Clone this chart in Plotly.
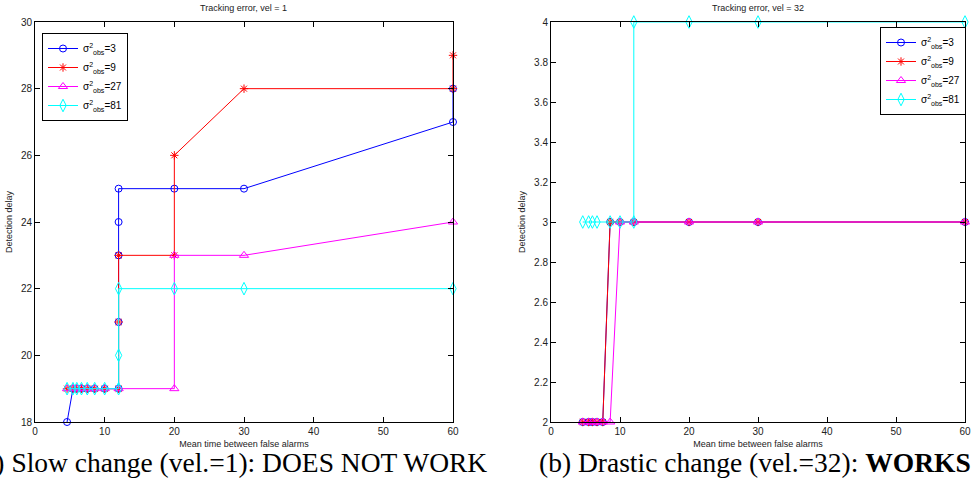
import plotly.graph_objects as go

# ---------------- data ----------------
# Left panel: Tracking error, vel = 1
l_blue_x = [4.6, 5.45, 6, 6.67, 7.5, 8.57, 10, 12, 12, 12, 12, 12, 20, 30, 60, 60]
l_blue_y = [18, 19, 19, 19, 19, 19, 19, 19, 21, 23, 24, 25, 25, 25, 27, 28]
l_red_x = [4.6, 5.45, 6, 6.67, 7.5, 8.57, 10, 12, 12, 12, 20, 20, 30, 60, 60]
l_red_y = [19, 19, 19, 19, 19, 19, 19, 19, 21, 23, 23, 26, 28, 28, 29]
l_mag_x = [4.6, 5.45, 6, 6.67, 7.5, 8.57, 10, 12, 20, 20, 30, 60]
l_mag_y = [19, 19, 19, 19, 19, 19, 19, 19, 19, 23, 23, 24]
l_cyan_x = [4.6, 5.45, 6, 6.67, 7.5, 8.57, 10, 12, 12, 12, 20, 30, 60]
l_cyan_y = [19, 19, 19, 19, 19, 19, 19, 19, 20, 22, 22, 22, 22]

# Right panel: Tracking error, vel = 32
r_blue_x = [4.6, 5.45, 6, 6.67, 7.5, 8.57, 10, 12, 20, 30, 60]
r_blue_y = [2, 2, 2, 2, 2, 3, 3, 3, 3, 3, 3]
r_red_x = [4.6, 5.45, 6, 6.67, 7.5, 8.57, 10, 12, 20, 30, 60]
r_red_y = [2, 2, 2, 2, 2, 3, 3, 3, 3, 3, 3]
r_mag_x = [4.6, 5.45, 6, 6.67, 7.5, 8.57, 10, 12, 20, 30, 60]
r_mag_y = [2, 2, 2, 2, 2, 2, 3, 3, 3, 3, 3]
r_cyan_x = [4.6, 5.45, 6, 6.67, 8.57, 10, 12, 12, 20, 30, 60]
r_cyan_y = [3, 3, 3, 3, 3, 3, 3, 4, 4, 4, 4]

series_names = ["σ<sup>2</sup><sub>obs</sub>=3", "σ<sup>2</sup><sub>obs</sub>=9",
                "σ<sup>2</sup><sub>obs</sub>=27", "σ<sup>2</sup><sub>obs</sub>=81"]
x_ticks = [0, 10, 20, 30, 40, 50, 60]
l_y_ticks = [18, 20, 22, 24, 26, 28, 30]
r_y_ticks = [2, 2.2, 2.4, 2.6, 2.8, 3, 3.2, 3.4, 3.6, 3.8, 4]

colors = ["#0000ff", "#ff0000", "#ff00ff", "#00ffff"]
symbols = ["circle-open", "asterisk-open", "triangle-up-open", "diamond-tall-open"]
sizes = [7, 7, 8, 9]

fig = go.Figure()

left = [(l_blue_x, l_blue_y), (l_red_x, l_red_y), (l_mag_x, l_mag_y), (l_cyan_x, l_cyan_y)]
right = [(r_blue_x, r_blue_y), (r_red_x, r_red_y), (r_mag_x, r_mag_y), (r_cyan_x, r_cyan_y)]

for i, (xs, ys) in enumerate(left):
    fig.add_trace(go.Scatter(
        x=xs, y=ys, mode="lines+markers", name=series_names[i],
        line=dict(color=colors[i], width=1),
        marker=dict(symbol=symbols[i], size=sizes[i], color=colors[i],
                    line=dict(color=colors[i], width=1)),
        xaxis="x", yaxis="y", legend="legend", cliponaxis=False))

for i, (xs, ys) in enumerate(right):
    fig.add_trace(go.Scatter(
        x=xs, y=ys, mode="lines+markers", name=series_names[i],
        line=dict(color=colors[i], width=1),
        marker=dict(symbol=symbols[i], size=sizes[i], color=colors[i],
                    line=dict(color=colors[i], width=1)),
        xaxis="x2", yaxis="y2", legend="legend2", cliponaxis=False))

W, H = 971, 495
bot = (H - 422) / H
top = (H - 22) / H

axis_common = dict(showline=True, linecolor="black", linewidth=1, mirror="ticks",
                   ticks="inside", ticklen=5, tickcolor="black", showgrid=False,
                   zeroline=False, automargin=False,
                   tickfont=dict(family="Liberation Sans", size=10, color="#222"))

tfont = dict(family="Liberation Sans", size=9, color="#222")
lfont = dict(family="Liberation Sans", size=10, color="black")

fig.update_layout(
    width=W, height=H,
    margin=dict(l=0, r=0, t=0, b=0, autoexpand=False),
    paper_bgcolor="white", plot_bgcolor="white",
    xaxis=dict(domain=[35 / W, 453 / W], range=[0, 60], tickvals=x_ticks,
               title=dict(text="Mean time between false alarms", font=tfont, standoff=4),
               anchor="y", **axis_common),
    yaxis=dict(domain=[bot, top], range=[18, 30], tickvals=l_y_ticks,
               title=dict(text="Detection delay", font=tfont, standoff=6),
               anchor="x", **axis_common),
    xaxis2=dict(domain=[551 / W, 965 / W], range=[0, 60], tickvals=x_ticks,
                title=dict(text="Mean time between false alarms", font=tfont, standoff=4),
                anchor="y2", **axis_common),
    yaxis2=dict(domain=[bot, top], range=[2, 4], tickvals=r_y_ticks,
                title=dict(text="Detection delay", font=tfont, standoff=6),
                anchor="x2", **axis_common),
    legend=dict(x=42 / W, y=(H - 33) / H, xanchor="left", yanchor="top",
                bgcolor="white", bordercolor="black", borderwidth=1,
                font=lfont, tracegroupgap=0, itemwidth=30),
    legend2=dict(x=966 / W, y=(H - 27) / H, xanchor="right", yanchor="top",
                 bgcolor="white", bordercolor="black", borderwidth=1,
                 font=lfont, tracegroupgap=0, itemwidth=30),
    showlegend=True,
)

annotations = [
    dict(text="Tracking error, vel = 1", x=(35 + 453) / 2 / W, y=(H - 8) / H,
         xref="paper", yref="paper", showarrow=False, font=tfont, xanchor="center", yanchor="middle"),
    dict(text="Tracking error, vel = 32", x=(551 + 965) / 2 / W, y=(H - 8) / H,
         xref="paper", yref="paper", showarrow=False, font=tfont, xanchor="center", yanchor="middle"),
    dict(text="(a) Slow change (vel.=1): DOES NOT WORK", x=489 / W, y=(H - 462) / H,
         xref="paper", yref="paper", showarrow=False, xanchor="right", yanchor="middle",
         font=dict(family="Liberation Serif", size=27.5, color="black")),
    dict(text="(b) Drastic change (vel.=32): <b>WORKS</b>", x=537 / W, y=(H - 462) / H,
         xref="paper", yref="paper", showarrow=False, xanchor="left", yanchor="middle",
         font=dict(family="Liberation Serif", size=27.5, color="black")),
]
fig.update_layout(annotations=annotations)

fig.write_html("out.html", config={"displayModeBar": False},
               post_script="document.body.style.margin='0';document.body.style.overflow='hidden';")
